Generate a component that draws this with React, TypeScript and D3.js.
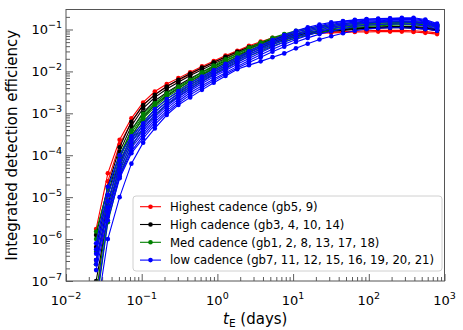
import React, { useRef, useEffect } from "react";
import * as d3 from "d3";

// Einstein timescale grid (days)
const tE = [
  0.025, 0.0357, 0.0511, 0.0731, 0.1045, 0.149, 0.214, 0.305, 0.437, 0.625,
  0.894, 1.28, 1.83, 2.61, 3.73, 5.34, 7.64, 10.9, 15.6, 22.3, 31.9, 45.6,
  65.3, 93.3, 133, 191, 273, 390, 558, 798,
];

// log10 of integrated detection efficiency
const gb5 = [-5.76, -4.43, -3.63, -3.12, -2.74, -2.48, -2.3, -2.16, -2.02, -1.88, -1.75, -1.62, -1.51, -1.39, -1.29, -1.2, -1.14, -1.1, -1.08, -1.07, -1.06, -1.05, -1.04, -1.03, -1.02, -1.02, -1.02, -1.03, -1.05, -1.08];
const gb9 = [-7.7, -4.62, -3.74, -3.21, -2.81, -2.55, -2.36, -2.21, -2.07, -1.92, -1.79, -1.66, -1.54, -1.42, -1.32, -1.23, -1.16, -1.12, -1.1, -1.09, -1.08, -1.07, -1.06, -1.06, -1.05, -1.05, -1.05, -1.06, -1.08, -1.11];

const gb3 = [-5.9, -4.75, -3.81, -3.2, -2.8, -2.56, -2.36, -2.2, -2.05, -1.91, -1.78, -1.65, -1.53, -1.42, -1.32, -1.23, -1.16, -1.11, -1.07, -1.04, -1.02, -1.0, -0.98, -0.97, -0.96, -0.95, -0.95, -0.96, -0.98, -1.02];
const gb4 = [-6.19, -4.95, -3.92, -3.3, -2.88, -2.62, -2.42, -2.26, -2.1, -1.96, -1.82, -1.69, -1.57, -1.45, -1.35, -1.26, -1.18, -1.12, -1.08, -1.04, -1.01, -0.99, -0.97, -0.95, -0.94, -0.93, -0.93, -0.93, -0.95, -0.99];
const gb10 = [-6.5, -5.2, -4.05, -3.4, -2.98, -2.7, -2.5, -2.33, -2.17, -2.02, -1.88, -1.74, -1.62, -1.5, -1.39, -1.29, -1.21, -1.14, -1.09, -1.05, -1.02, -1.0, -0.98, -0.96, -0.95, -0.94, -0.94, -0.95, -0.97, -1.01];
const gb14 = [-7.0, -5.45, -4.2, -3.55, -3.1, -2.8, -2.58, -2.4, -2.23, -2.08, -1.93, -1.79, -1.66, -1.54, -1.43, -1.33, -1.24, -1.17, -1.11, -1.07, -1.04, -1.02, -1.0, -0.98, -0.97, -0.96, -0.96, -0.97, -0.99, -1.03];

const gb1 = [-5.82, -4.8, -4.0, -3.41, -3.01, -2.76, -2.52, -2.36, -2.2, -2.02, -1.86, -1.71, -1.57, -1.43, -1.31, -1.2, -1.11, -1.03, -0.97, -0.92, -0.88, -0.86, -0.84, -0.83, -0.82, -0.81, -0.81, -0.81, -0.83, -0.88];
const gb2 = [-6.0, -4.95, -4.08, -3.47, -3.06, -2.8, -2.56, -2.39, -2.23, -2.06, -1.9, -1.75, -1.61, -1.47, -1.35, -1.24, -1.14, -1.06, -1.0, -0.95, -0.91, -0.88, -0.86, -0.84, -0.83, -0.82, -0.82, -0.82, -0.84, -0.89];
const gb8 = [-6.3, -5.1, -4.18, -3.54, -3.12, -2.85, -2.61, -2.44, -2.27, -2.1, -1.94, -1.79, -1.65, -1.51, -1.39, -1.28, -1.18, -1.1, -1.03, -0.98, -0.94, -0.91, -0.88, -0.86, -0.85, -0.84, -0.83, -0.83, -0.85, -0.9];
const gb13 = [-6.6, -5.25, -4.28, -3.62, -3.19, -2.91, -2.66, -2.49, -2.32, -2.15, -1.98, -1.83, -1.69, -1.55, -1.43, -1.32, -1.22, -1.13, -1.06, -1.01, -0.97, -0.93, -0.9, -0.88, -0.87, -0.86, -0.85, -0.85, -0.87, -0.92];
const gb17 = [-7.3, -5.4, -4.38, -3.7, -3.26, -2.97, -2.72, -2.54, -2.37, -2.19, -2.02, -1.87, -1.73, -1.59, -1.47, -1.36, -1.26, -1.17, -1.1, -1.04, -0.99, -0.95, -0.92, -0.9, -0.89, -0.88, -0.87, -0.87, -0.89, -0.94];
const gb18 = [-7.6, -5.6, -4.5, -3.8, -3.35, -3.05, -2.79, -2.6, -2.42, -2.24, -2.07, -1.92, -1.78, -1.64, -1.52, -1.4, -1.3, -1.21, -1.13, -1.07, -1.02, -0.98, -0.95, -0.93, -0.91, -0.9, -0.89, -0.89, -0.91, -0.96];

const gb7 = [-6.1, -4.75, -4.0, -3.55, -3.24, -2.9, -2.66, -2.47, -2.28, -2.12, -1.97, -1.82, -1.67, -1.52, -1.38, -1.25, -1.13, -1.03, -0.95, -0.88, -0.83, -0.8, -0.77, -0.75, -0.74, -0.73, -0.72, -0.72, -0.76, -0.86];
const gb11 = [-6.25, -4.95, -4.12, -3.62, -3.3, -2.97, -2.73, -2.52, -2.33, -2.17, -2.01, -1.86, -1.71, -1.56, -1.42, -1.29, -1.17, -1.06, -0.98, -0.91, -0.85, -0.81, -0.78, -0.76, -0.75, -0.74, -0.74, -0.74, -0.78, -0.88];
const gb12 = [-6.35, -5.1, -4.22, -3.68, -3.36, -3.03, -2.78, -2.57, -2.38, -2.21, -2.05, -1.9, -1.75, -1.6, -1.46, -1.33, -1.21, -1.1, -1.01, -0.94, -0.88, -0.83, -0.8, -0.78, -0.77, -0.76, -0.76, -0.76, -0.8, -0.9];
const gb15 = [-6.5, -5.25, -4.32, -3.75, -3.42, -3.09, -2.83, -2.61, -2.42, -2.25, -2.09, -1.94, -1.79, -1.64, -1.5, -1.37, -1.25, -1.14, -1.05, -0.97, -0.91, -0.86, -0.82, -0.8, -0.79, -0.78, -0.78, -0.78, -0.82, -0.92];
const gb16 = [-6.6, -5.35, -4.42, -3.82, -3.48, -3.15, -2.88, -2.66, -2.46, -2.29, -2.13, -1.98, -1.83, -1.69, -1.55, -1.42, -1.3, -1.19, -1.09, -1.01, -0.94, -0.89, -0.85, -0.83, -0.81, -0.8, -0.8, -0.81, -0.85, -0.94];
const gb19 = [-6.74, -5.45, -4.5, -3.9, -3.54, -3.21, -2.94, -2.71, -2.51, -2.34, -2.18, -2.03, -1.88, -1.74, -1.6, -1.47, -1.35, -1.24, -1.14, -1.05, -0.98, -0.93, -0.88, -0.85, -0.83, -0.82, -0.82, -0.83, -0.87, -0.96];
const gb20 = [-7.5, -5.55, -4.55, -3.95, -3.6, -3.27, -2.99, -2.76, -2.56, -2.39, -2.22, -2.07, -1.92, -1.79, -1.66, -1.53, -1.41, -1.3, -1.2, -1.11, -1.04, -0.98, -0.93, -0.9, -0.88, -0.87, -0.87, -0.88, -0.92, -0.99];
const gb21 = [-7.85, -6.0, -5.0, -4.2, -3.7, -3.36, -3.04, -2.8, -2.62, -2.44, -2.27, -2.11, -1.95, -1.85, -1.76, -1.66, -1.57, -1.45, -1.34, -1.24, -1.16, -1.09, -1.03, -0.99, -0.97, -0.96, -0.96, -0.97, -0.99, -1.03];

const groups = [
  { label: "Highest cadence (gb5, 9)", color: "#ff0000", curves: [gb5, gb9] },
  { label: "High cadence (gb3, 4, 10, 14)", color: "#000000", curves: [gb3, gb4, gb10, gb14] },
  { label: "Med cadence (gb1, 2, 8, 13, 17, 18)", color: "#008000", curves: [gb1, gb2, gb8, gb13, gb17, gb18] },
  { label: "low cadence (gb7, 11, 12, 15, 16, 19, 20, 21)", color: "#0000ff", curves: [gb7, gb11, gb12, gb15, gb16, gb19, gb20, gb21] },
];

const xMajor = [-2, -1, 0, 1, 2, 3];
const yMajor = [-7, -6, -5, -4, -3, -2, -1];

const W = 463;
const H = 330;
const FONT = "DejaVu Sans, sans-serif";

export default function App() {
  const ref = useRef<SVGSVGElement>(null);

  useEffect(() => {
    const svg = d3.select(ref.current);
    svg.selectAll("*").remove();

    const left = 66, right = 444.5, top = 9.5, bottom = 281;
    const x = d3.scaleLog().domain([1e-2, 1e3]).range([left, right]);
    const y = d3.scaleLog().domain([1e-7, 0.3]).range([bottom, top]);

    svg.append("defs").append("clipPath").attr("id", "plot")
      .append("rect").attr("x", left).attr("y", top)
      .attr("width", right - left).attr("height", bottom - top);

    // minor ticks
    const minors = (lo: number, hi: number) => {
      const out: number[] = [];
      for (let e = lo; e < hi; e++) for (let m = 2; m < 10; m++) out.push(m * 10 ** e);
      return out;
    };
    const yMinor = minors(-7, 0).filter((v) => v <= 0.3);

    const xAxis = svg.append("g").attr("transform", `translate(0,${bottom})`);
    xAxis.call(d3.axisBottom(x).tickValues(xMajor.map((e) => 10 ** e)).tickSize(-7).tickFormat(() => ""));
    xAxis.append("g").call(d3.axisBottom(x).tickValues(minors(-2, 3)).tickSize(-4).tickFormat(() => ""));
    const yAxis = svg.append("g").attr("transform", `translate(${left},0)`);
    yAxis.call(d3.axisLeft(y).tickValues(yMajor.map((e) => 10 ** e)).tickSize(-7).tickFormat(() => ""));
    yAxis.append("g").call(d3.axisLeft(y).tickValues(yMinor).tickSize(-4).tickFormat(() => ""));
    svg.selectAll(".domain").remove();
    svg.selectAll(".tick line").attr("stroke", "#333").attr("stroke-width", 0.8);

    // tick labels with superscripts
    const supLabel = (sel: any, e: number) => {
      sel.append("tspan").text("10");
      sel.append("tspan").attr("font-size", 9.5).attr("dy", -6)
        .text(e < 0 ? "\u2212" + -e : String(e));
    };
    xMajor.forEach((e) => {
      const t = svg.append("text").attr("x", x(10 ** e)).attr("y", 305)
        .attr("text-anchor", "middle").attr("font-family", FONT).attr("font-size", 13);
      supLabel(t, e);
    });
    yMajor.forEach((e) => {
      const t = svg.append("text").attr("x", 62).attr("y", y(10 ** e) + 5)
        .attr("text-anchor", "end").attr("font-family", FONT).attr("font-size", 13);
      supLabel(t, e);
    });

    // curves
    const plot = svg.append("g").attr("clip-path", "url(#plot)");
    const line = d3.line<number>()
      .x((_, i) => x(tE[i]))
      .y((v) => y(10 ** v));
    groups.forEach((grp) => {
      grp.curves.forEach((c) => {
        plot.append("path").attr("d", line(c)).attr("fill", "none")
          .attr("stroke", grp.color).attr("stroke-width", 1.1);
        plot.selectAll(null).data(c).enter().append("circle")
          .attr("cx", (_, i) => x(tE[i])).attr("cy", (v) => y(10 ** v))
          .attr("r", 2.3).attr("fill", grp.color);
      });
    });

    // frame
    svg.append("rect").attr("x", left).attr("y", top)
      .attr("width", right - left).attr("height", bottom - top)
      .attr("fill", "none").attr("stroke", "#555").attr("stroke-width", 1);

    // axis labels
    svg.append("text").attr("transform", `translate(17,${(top + bottom) / 2}) rotate(-90)`)
      .attr("text-anchor", "middle").attr("font-family", FONT).attr("font-size", 15)
      .text("Integrated detection efficiency");
    const xl = svg.append("text").attr("x", (left + right) / 2).attr("y", 324)
      .attr("text-anchor", "middle").attr("font-family", FONT).attr("font-size", 15);
    xl.append("tspan").attr("font-style", "italic").text("t");
    xl.append("tspan").attr("font-size", 10.5).attr("dy", 3).text("E");
    xl.append("tspan").attr("dy", -3).text(" (days)");

    // legend
    const lg = svg.append("g");
    lg.append("rect").attr("x", 133).attr("y", 196).attr("width", 309).attr("height", 75)
      .attr("rx", 3).attr("fill", "white").attr("fill-opacity", 0.8)
      .attr("stroke", "#d0d0d0").attr("stroke-width", 1);
    groups.forEach((grp, i) => {
      const cy = 206.7 + i * 17.8;
      lg.append("line").attr("x1", 140).attr("x2", 161).attr("y1", cy).attr("y2", cy)
        .attr("stroke", grp.color).attr("stroke-width", 1.1);
      lg.append("circle").attr("cx", 150.5).attr("cy", cy).attr("r", 2.3).attr("fill", grp.color);
      lg.append("text").attr("x", 170).attr("y", cy + 4.2).attr("font-family", FONT)
        .attr("font-size", 11.7).text(grp.label);
    });
  }, []);

  return (
    <svg ref={ref} width={W} height={H}
      style={{ display: "block", position: "absolute", left: 0, top: 0, background: "white" }} />
  );
}
